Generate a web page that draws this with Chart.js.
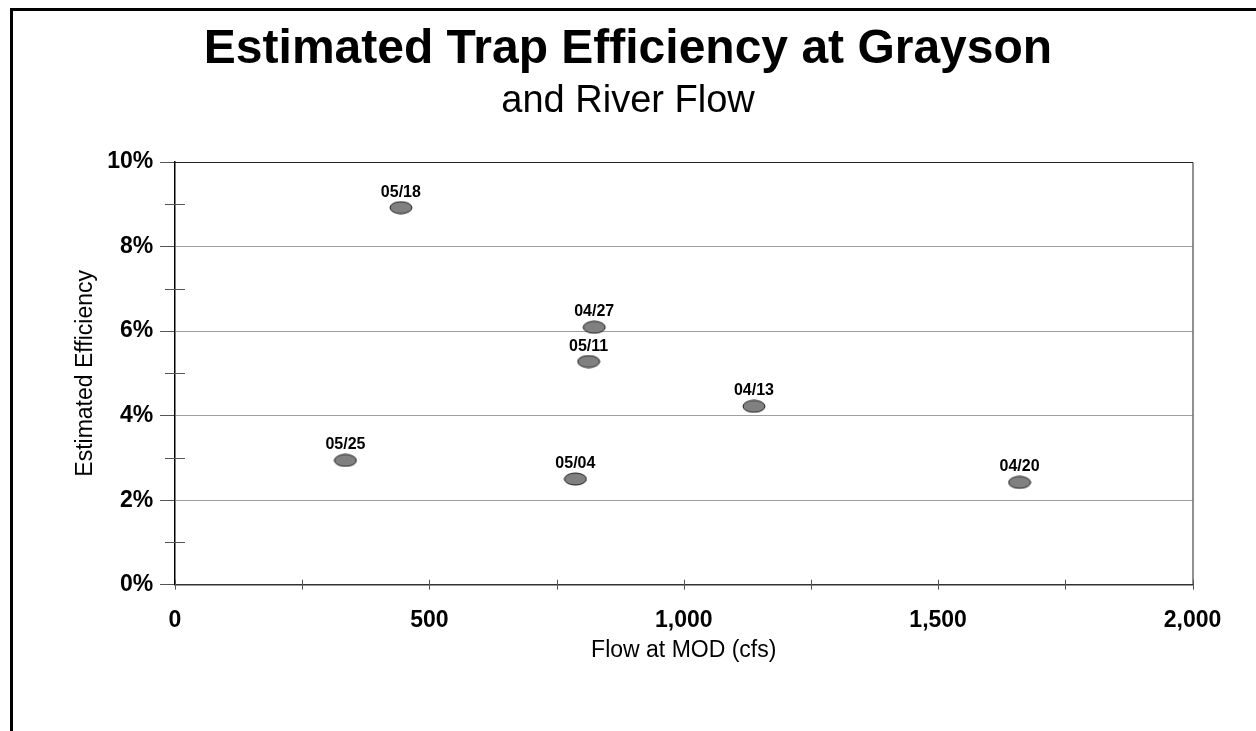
<!DOCTYPE html>
<html>
<head>
<meta charset="utf-8">
<title>Estimated Trap Efficiency at Grayson</title>
<script src="https://cdn.jsdelivr.net/npm/chart.js@4.4.1/dist/chart.umd.min.js"></script>
<style>
  html, body { margin: 0; padding: 0; background: #fff; overflow: hidden; }
  #frame {
    position: absolute; left: 10px; top: 8px; width: 1400px; height: 900px;
    border-left: 3px solid #000; border-top: 3px solid #000;
  }
  #chart { position: absolute; left: 0; top: 0; }
</style>
</head>
<body>
<div id="frame"></div>
<canvas id="chart" width="1256" height="731"></canvas>
<script>
// sampling dates, flow at MOD (cfs) and estimated trap efficiency (%)
const dates = ["05/18", "04/27", "05/11", "04/13", "05/25", "05/04", "04/20"]
const flowCfs = [444, 824, 813, 1138, 335, 787, 1660]
const efficiencyPct = [8.92, 6.09, 5.28, 4.22, 2.94, 2.50, 2.42]

const xMax = 2000
const xStep = 250
const xLabelEvery = 500
const yMax = 10
const yLabelEvery = 2

Chart.defaults.font.family = '"Liberation Sans", Arial, sans-serif'
Chart.defaults.color = "#000"

// grey ellipse marker used for every point
function ellipseMarker() {
  const c = document.createElement("canvas")
  c.width = 24
  c.height = 14
  const ctx = c.getContext("2d")
  ctx.beginPath()
  ctx.ellipse(12, 7, 11, 6, 0, 0, Math.PI * 2)
  ctx.fillStyle = "#808080"
  ctx.fill()
  ctx.lineWidth = 1
  ctx.strokeStyle = "#1a1a1a"
  ctx.stroke()
  return c
}

// box round the plot area and the small ticks that cross the axes
const plotFrame = {
  id: "plotFrame",
  afterDraw(chart) {
    const { ctx, chartArea: a, scales } = chart
    ctx.save()
    ctx.strokeStyle = "#222"
    ctx.lineWidth = 1
    ctx.beginPath()
    ctx.moveTo(a.left, a.top + 0.5)
    ctx.lineTo(a.right + 0.5, a.top + 0.5)
    ctx.lineTo(a.right + 0.5, a.bottom)
    ctx.stroke()

    ctx.strokeStyle = "#555"
    ctx.beginPath()
    scales.x.ticks.forEach((t) => {
      const px = Math.round(scales.x.getPixelForValue(t.value)) + 0.5
      ctx.moveTo(px, a.bottom - 5)
      ctx.lineTo(px, a.bottom + 5)
    })
    scales.y.ticks.forEach((t) => {
      if (t.value % yLabelEvery === 0) return
      const py = Math.round(scales.y.getPixelForValue(t.value)) + 0.5
      ctx.moveTo(a.left - 10, py)
      ctx.lineTo(a.left + 10, py)
    })
    ctx.stroke()
    ctx.restore()
  },
}

// date written above each marker
const pointLabels = {
  id: "pointLabels",
  afterDatasetsDraw(chart) {
    const { ctx } = chart
    const meta = chart.getDatasetMeta(0)
    ctx.save()
    ctx.font = 'bold 16px "Liberation Sans", Arial, sans-serif'
    ctx.fillStyle = "#000"
    ctx.textAlign = "center"
    ctx.textBaseline = "alphabetic"
    meta.data.forEach((pt, i) => {
      ctx.fillText(dates[i], pt.x, pt.y - 11)
    })
    ctx.restore()
  },
}

new Chart(document.getElementById("chart"), {
  type: "scatter",
  data: {
    datasets: [
      {
        label: "Trap efficiency",
        data: flowCfs.map((x, i) => ({ x, y: efficiencyPct[i] })),
        pointStyle: ellipseMarker(),
        pointRadius: 7,
        pointHoverRadius: 7,
      },
    ],
  },
  options: {
    responsive: false,
    animation: false,
    devicePixelRatio: 1,
    layout: { padding: { left: 0, right: 0, top: 0, bottom: 66.7 } },
    plugins: {
      legend: { display: false },
      tooltip: { enabled: false },
      title: {
        display: true,
        text: "Estimated Trap Efficiency at Grayson",
        font: { size: 48, weight: "bold" },
        color: "#000",
        padding: { top: 20.7, bottom: 0 },
      },
      subtitle: {
        display: true,
        text: "and River Flow",
        font: { size: 38 },
        color: "#000",
        padding: { top: 0, bottom: 38.1 },
      },
    },
    scales: {
      x: {
        type: "linear",
        min: 0,
        max: xMax,
        afterFit: (scale) => { scale.height = 79.6 },
        ticks: {
          stepSize: xStep,
          autoSkip: false,
          maxRotation: 0,
          padding: 17.3,
          font: { size: 23, weight: "bold" },
          callback: (v) => (v % xLabelEvery === 0 ? v.toLocaleString("en-US") : ""),
        },
        grid: { drawOnChartArea: false, drawTicks: true, tickLength: 5, tickColor: "rgba(0,0,0,0)" },
        border: { display: true, color: "#333", width: 1.5 },
        title: { display: true, text: "Flow at MOD (cfs)", font: { size: 23 }, padding: 0 },
      },
      y: {
        min: 0,
        max: yMax,
        afterFit: (scale) => { scale.width = 175 },
        ticks: {
          stepSize: 1,
          autoSkip: false,
          padding: 6.7,
          font: { size: 23, weight: "bold" },
          callback: (v) => (v % yLabelEvery === 0 ? v + "%" : ""),
        },
        grid: {
          color: (c) => (c.tick && c.tick.value % yLabelEvery === 0 ? "#a0a0a0" : "rgba(0,0,0,0)"),
          tickColor: (c) => (c.tick && c.tick.value % yLabelEvery === 0 ? "#555" : "rgba(0,0,0,0)"),
          tickLength: 15,
          lineWidth: 1,
        },
        border: { display: true, color: "#000", width: 1.5 },
        title: { display: true, text: "Estimated Efficiency", font: { size: 23 }, padding: 71.7 },
      },
      // empty right-hand margin so the titles centre on the whole page
      rightMargin: {
        type: "linear",
        position: "right",
        afterFit: (scale) => { scale.width = 63.5 },
        ticks: { display: false },
        grid: { display: false, drawTicks: false },
        border: { display: false },
      },
    },
  },
  plugins: [plotFrame, pointLabels],
})
</script>
</body>
</html>
